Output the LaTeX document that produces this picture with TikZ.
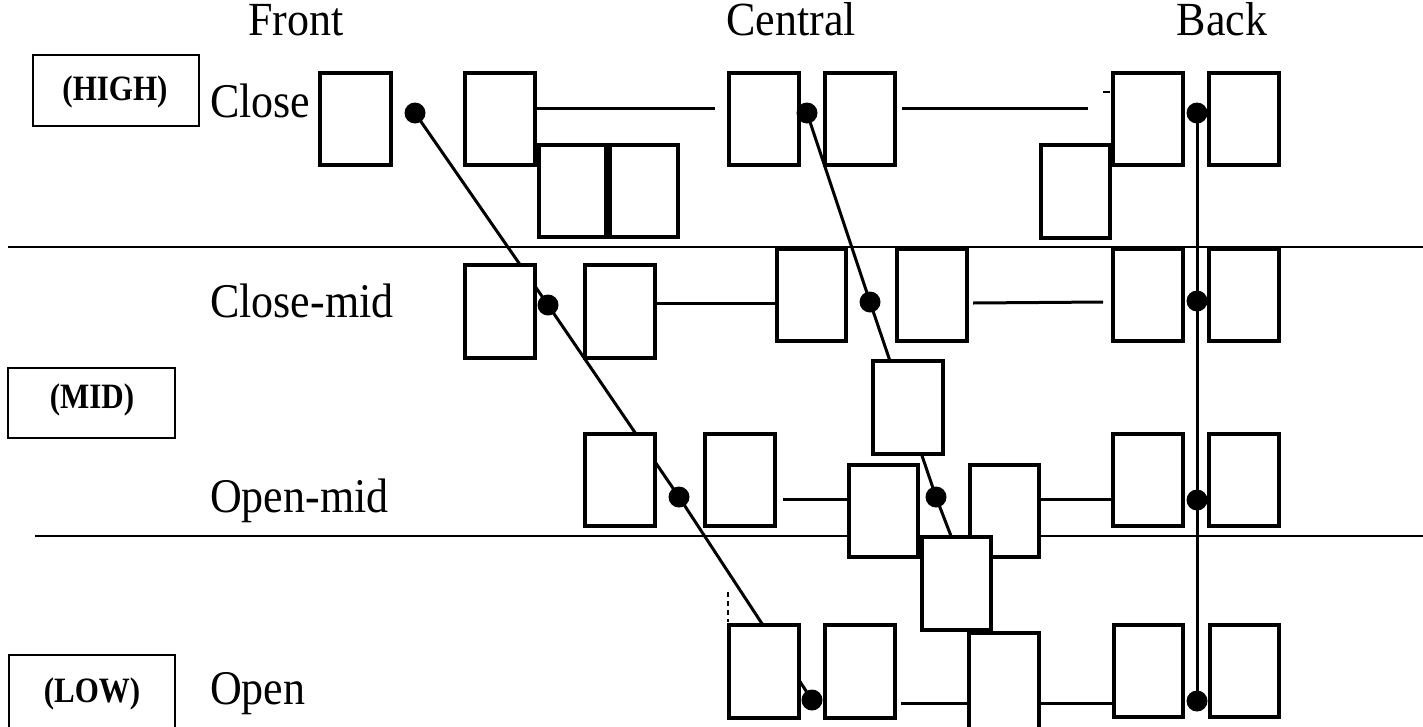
\documentclass[tikz,border=0pt]{standalone}
\usepackage{fontspec}
\usepackage{graphicx}
\setmainfont{Liberation Serif}
\usetikzlibrary{calc}
\pgfdeclarelayer{bg}
\pgfsetlayers{bg,main}
\newcommand{\cellbx}[5]{\node[cellbox, minimum width={#4-#2-4}, minimum height={#5-#3-4}] (#1) at ({(#2+#4)/2},{(#3+#5)/2}) {};}
\begin{document}
\begin{tikzpicture}[x=1pt,y=-1pt,
  cellbox/.style={draw, fill=white, line width=4pt, inner sep=0pt, outer sep=0pt},
  dot/.style={circle, fill=black, inner sep=0pt, minimum size=21pt},
  conn/.style={line width=3pt},
  divider/.style={line width=2pt},
  rowlabel/.style={font=\fontsize{44}{50}\selectfont, anchor=base west, inner sep=0pt},
  colhead/.style={font=\fontsize{44}{50}\selectfont, anchor=base, inner sep=0pt},
  levelbox/.style={draw, line width=2pt, fill=white, inner sep=0pt},
  leveltext/.style={font=\bfseries\fontsize{31}{36}\selectfont, anchor=base, inner sep=0pt}]
\useasboundingbox (0,0) rectangle (1423,726);
\clip (0,0) rectangle (1423,726);

% column headings
\node[colhead] (hfront) at (296,35) {\scalebox{1}[1.08]{Front}};
\node[colhead] (hcentral) at (791,35) {\scalebox{1}[1.08]{Central}};
\node[colhead] (hback) at (1222,35) {\scalebox{1}[1.08]{Back}};

% row labels
\node[rowlabel] (lclose) at (210,117) {\scalebox{1}[1.1]{Close}};
\node[rowlabel] (lclosemid) at (210,317) {\scalebox{1}[1.1]{Close-mid}};
\node[rowlabel] (lopenmid) at (210,512) {\scalebox{1}[1.1]{Open-mid}};
\node[rowlabel] (lopen) at (210,704) {\scalebox{1}[1.1]{Open}};

% level boxes
\node[levelbox, minimum width=166, minimum height=71] (high) at (116,90.5) {};
\node[leveltext] (hightxt) at (115,100) {\scalebox{1}[1.15]{(HIGH)}};
\node[levelbox, minimum width=167, minimum height=70] (mid) at (91.5,403) {};
\node[leveltext] (midtxt) at (92,408) {\scalebox{1}[1.15]{(MID)}};
\node[levelbox, minimum width=166, minimum height=104] (low) at (92,707) {};
\node[leveltext] (lowtxt) at (92,702) {\scalebox{1}[1.15]{(LOW)}};

% boxes: row Close
\cellbx{A1}{318}{71}{393}{167}
\cellbx{A2}{463}{71}{537}{167}
\cellbx{A3}{537}{143}{608}{239}
\cellbx{A4}{608}{143}{680}{239}
\cellbx{A5}{727}{71}{801}{167}
\cellbx{A6}{823}{71}{897}{167}
\cellbx{A7}{1039}{143}{1112}{240}
\cellbx{A8}{1111}{71}{1185}{167}
\cellbx{A9}{1207}{71}{1281}{167}
% row Close-mid
\cellbx{B1}{463}{263}{537}{360}
\cellbx{B2}{583}{263}{657}{360}
\cellbx{B3}{775}{247}{848}{343}
\cellbx{B4}{895}{247}{969}{343}
\cellbx{B5}{1111}{247}{1185}{343}
\cellbx{B6}{1207}{247}{1281}{343}
\cellbx{C0}{871}{359}{945}{456}
% row Open-mid
\cellbx{C1}{583}{432}{657}{528}
\cellbx{C2}{703}{432}{777}{528}
\cellbx{C3}{847}{463}{920}{559}
\cellbx{C4}{968}{463}{1041}{559}
\cellbx{C5}{1111}{432}{1185}{528}
\cellbx{C6}{1207}{432}{1281}{528}
\cellbx{D0}{920}{535}{993}{632}
% row Open
\cellbx{D1}{727}{623}{801}{720}
\cellbx{D2}{823}{623}{897}{720}
\cellbx{D3}{967}{631}{1041}{760}
\cellbx{D4}{1112}{623}{1185}{719}
\cellbx{D5}{1208}{623}{1281}{719}

% dots
\node[dot] (f1) at (415,113) {};
\node[dot] (f2) at (548,305) {};
\node[dot] (f3) at (679,497) {};
\node[dot] (f4) at (812,700) {};
\node[dot] (c1) at (807,113) {};
\node[dot] (c2) at (870,302) {};
\node[dot] (c3) at (936,497) {};
\node[dot] (k1) at (1197,113) {};
\node[dot] (k2) at (1197,301) {};
\node[dot] (k3) at (1197,500) {};
\node[dot] (k4) at (1197,701) {};

% free ends
\coordinate (cend) at (951,536);
\coordinate (r1e) at (715,108);
\coordinate (r1f) at (1088,108);
\coordinate (r2y) at (0,303);
\coordinate (r2f) at (1103,302);
\coordinate (r3y) at (0,499);
\coordinate (r4y) at (0,703);
\coordinate (d1a) at (8,247);
\coordinate (d1b) at (1423,247);
\coordinate (d2a) at (35,536);
\coordinate (d2b) at (1423,536);
\coordinate (t1a) at (1103,92);
\coordinate (t1b) at (1110,92);
\coordinate (t2a) at (728,592);
\coordinate (t2b) at (728,622);

\begin{pgfonlayer}{bg}
\fill[white] (0,0) rectangle (1423,726);
\draw[divider] (d1a) -- (d1b);
\draw[divider] (d2a) -- (d2b);
\draw[conn] (f1.center) -- (f2.center) -- (f3.center) -- (f4.center);
\draw[conn] (c1.center) -- (c2.center) -- (c3.center) -- (cend);
\draw[conn] (k1.center) -- (k4.center);
\draw[conn] (A2.east |- r1e) -- (r1e);
\draw[conn] ($(A6.east |- r1f)+(7,0)$) -- (r1f);
\draw[conn] (B2.east |- r2y) -- (B3.west |- r2y);
\draw[conn] ($(B4.east |- r2y)+(6,0)$) -- (r2f);
\draw[conn] ($(C2.east |- r3y)+(8,0)$) -- (C3.west |- r3y);
\draw[conn] (C4.east |- r3y) -- (C5.west |- r3y);
\draw[conn] ($(D2.east |- r4y)+(6,0)$) -- (D3.west |- r4y);
\draw[conn] (D3.east |- r4y) -- (D4.west |- r4y);
\draw[line width=1.5pt] (t1a) -- (t1b);
\draw[line width=1.5pt, dash pattern=on 5pt off 4pt] (t2a) -- (t2b);
\end{pgfonlayer}
\end{tikzpicture}
\end{document}
